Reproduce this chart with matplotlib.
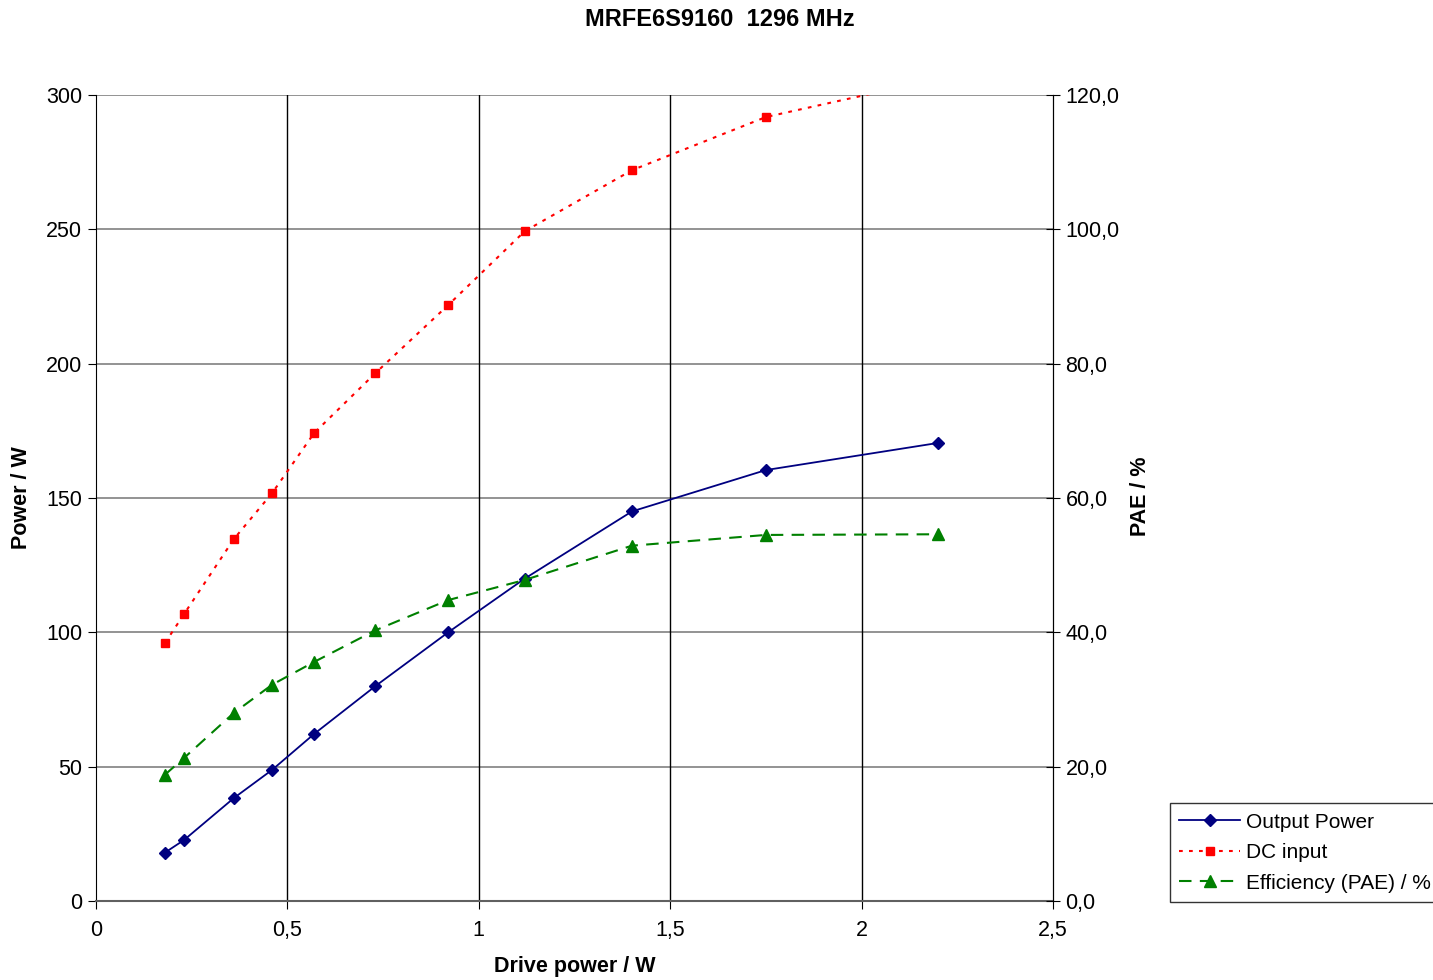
import matplotlib
matplotlib.use("Agg")
import matplotlib.pyplot as plt
from matplotlib.ticker import FuncFormatter, MultipleLocator

plt.rcParams['font.family'] = ['Liberation Sans', 'DejaVu Sans']

drive = [0.18, 0.23, 0.36, 0.46, 0.57, 0.73, 0.92, 1.12, 1.40, 1.75, 2.20]
output_power = [18, 22.7, 38.3, 48.8, 62.2, 80, 100, 120, 145, 160.4, 170.5]
dc_input = [96, 106.8, 134.7, 151.8, 174.2, 196.5, 221.8, 249.3, 272, 291.8, 306]
pae = [18.8, 21.3, 28.0, 32.2, 35.6, 40.3, 44.8, 47.8, 52.9, 54.5, 54.6]

title = "MRFE6S9160  1296 MHz"
xlabel = "Drive power / W"
ylabel_left = "Power / W"
ylabel_right = "PAE / %"
legend_labels = ["Output Power", "DC input", "Efficiency (PAE) / %"]

fig = plt.figure(figsize=(14.33, 9.8), dpi=100)
ax = fig.add_axes([96/1433, 1-901/980, (1053-96)/1433, (901-95)/980])
ax2 = ax.twinx()

FS = 15.5

ax.set_xlim(0, 2.5)
ax.set_ylim(0, 300)
ax2.set_ylim(0, 120)
ax.xaxis.set_major_locator(MultipleLocator(0.5))
ax.yaxis.set_major_locator(MultipleLocator(50))
ax2.yaxis.set_major_locator(MultipleLocator(20))

def fmt_x(v, pos):
    return ("%g" % v).replace('.', ',')
ax.xaxis.set_major_formatter(FuncFormatter(fmt_x))
ax.yaxis.set_major_formatter(FuncFormatter(lambda v, p: "%d" % v))
ax2.yaxis.set_major_formatter(FuncFormatter(lambda v, p: ("%.1f" % v).replace('.', ',')))

# grid
for yv in range(50, 301, 50):
    ax.axhline(yv, color='#808080', lw=1.2, zorder=0.5)
for xv in [0.5, 1.0, 1.5, 2.0]:
    ax.axvline(xv, color='black', lw=1.0, zorder=0.5)

for a in (ax, ax2):
    a.spines['top'].set_visible(False)
ax.spines['left'].set_color('black')
ax.spines['bottom'].set_color('#606060')
ax.spines['bottom'].set_linewidth(1.5)
ax2.spines['right'].set_color('black')
ax2.spines['left'].set_visible(False)
ax2.spines['bottom'].set_visible(False)

ax.tick_params(axis='x', direction='out', length=6, labelsize=FS, pad=8, color='black')
ax.tick_params(axis='y', direction='out', length=6, labelsize=FS, pad=4, color='black')
ax2.tick_params(axis='y', direction='inout', length=10, labelsize=FS, pad=4, color='black')

l1, = ax.plot(drive, output_power, color='#000080', lw=1.3, marker='D', markersize=6,
              markerfacecolor='#000080', markeredgecolor='#000080', zorder=3)
l2, = ax.plot(drive, dc_input, color='#FF0000', lw=1.5, linestyle=(0, (1.8, 3)), marker='s',
              markersize=6, markerfacecolor='#FF0000', markeredgecolor='#FF0000', zorder=3)
l3, = ax2.plot(drive, pae, color='#008000', lw=1.5, linestyle=(0, (6, 4)), marker='^',
               markersize=8, markerfacecolor='#008000', markeredgecolor='#008000', zorder=3)

fig.text(575/1433, 1-966/980, xlabel, fontsize=FS, fontweight='bold', ha='center', va='center')
fig.text(22/1433, 1-498/980, ylabel_left, fontsize=FS, fontweight='bold', ha='center', va='center', rotation=90)
fig.text(1140/1433, 1-496/980, ylabel_right, fontsize=FS, fontweight='bold', ha='center', va='center', rotation=90)
fig.text(720/1433, 1-20/980, title, fontsize=17, fontweight='bold', ha='center', va='center')

leg = fig.legend([l1, l2, l3], legend_labels, loc='lower left',
                 bbox_to_anchor=(1170/1433, 1-902/980), borderaxespad=0,
                 fontsize=15, frameon=True, fancybox=False, edgecolor='black',
                 handlelength=2.9, handletextpad=0.3, labelspacing=0.55,
                 borderpad=0.45)
leg.get_frame().set_linewidth(1.0)

fig.savefig("out.png", dpi=100)
